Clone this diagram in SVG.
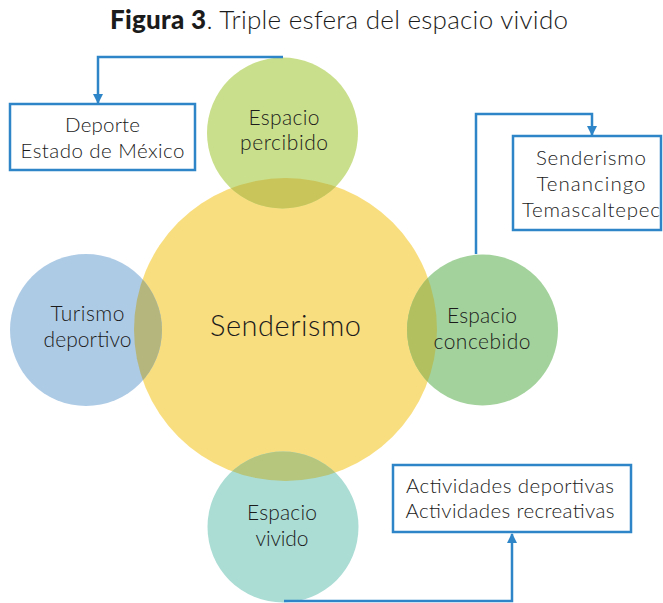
<svg xmlns="http://www.w3.org/2000/svg" width="663" height="603" viewBox="0 0 663 603">
<style>
text{font-family:Lato,"Open Sans","Liberation Sans",sans-serif;font-weight:300;fill:#1b1b1b;text-anchor:middle}
.c{font-size:21px}
.b{font-size:20.5px}
.box{fill:#fff;stroke:#2E86C8;stroke-width:2.5}
.con{fill:none;stroke:#2E86C8;stroke-width:2.5}
</style>
<defs>
<clipPath id="cy"><circle cx="285.5" cy="329.5" r="151.5"/></clipPath>
<marker id="ar" viewBox="0 0 10 10" refX="9" refY="5" markerWidth="4" markerHeight="4" orient="auto-start-reverse" markerUnits="strokeWidth">
<path d="M0,0 L10,5 L0,10 z" fill="#2E86C8"/>
</marker>
</defs>
<text x="339" y="29" style="font-size:26px" textLength="458" lengthAdjust="spacing"><tspan font-weight="900">Figura 3</tspan>. Triple esfera del espacio vivido</text>
<g id="senderismo"><circle cx="285.5" cy="329.5" r="151.5" fill="#F9DE80"/><text x="285.5" y="336" style="font-size:29px" textLength="151" lengthAdjust="spacing">Senderismo</text></g>
<g id="percibido"><circle cx="282.5" cy="133" r="75.5" fill="#CADF8B"/><circle cx="282.5" cy="133" r="75.5" fill="#C9C55A" clip-path="url(#cy)"/><text class="c" x="284" y="124.5" textLength="71" lengthAdjust="spacing">Espacio</text><text class="c" x="284" y="150" textLength="88" lengthAdjust="spacing">percibido</text></g>
<g id="concebido"><circle cx="482.5" cy="330" r="75.5" fill="#A3D29C"/><circle cx="482.5" cy="330" r="75.5" fill="#B2C060" clip-path="url(#cy)"/><text class="c" x="482" y="323" textLength="70" lengthAdjust="spacing">Espacio</text><text class="c" x="482" y="348.5" textLength="97" lengthAdjust="spacing">concebido</text></g>
<g id="vivido"><circle cx="283" cy="527" r="75.5" fill="#ABDDD5"/><circle cx="283" cy="527" r="75.5" fill="#B6C67C" clip-path="url(#cy)"/><text class="c" x="282" y="520" textLength="70" lengthAdjust="spacing">Espacio</text><text class="c" x="282" y="546" textLength="53" lengthAdjust="spacing">vivido</text></g>
<g id="turismo"><circle cx="86" cy="330" r="76" fill="#AECBE6"/><circle cx="86" cy="330" r="76" fill="#B5B67E" clip-path="url(#cy)"/><text class="c" x="87.5" y="321" textLength="74" lengthAdjust="spacing">Turismo</text><text class="c" x="87.5" y="346.5" textLength="88" lengthAdjust="spacing">deportivo</text></g>
<g id="box-deporte"><rect class="box" x="10" y="104" width="185" height="66"/><text class="b" x="102.5" y="132" textLength="75" lengthAdjust="spacing">Deporte</text><text class="b" x="102.5" y="157.5" textLength="164" lengthAdjust="spacing">Estado de México</text></g>
<g id="box-lugares"><rect class="box" x="513" y="136" width="148" height="94"/><text class="b" x="591" y="165" textLength="110" lengthAdjust="spacing">Senderismo</text><text class="b" x="591" y="191" textLength="109" lengthAdjust="spacing">Tenancingo</text><text class="b" x="591" y="216.5" textLength="138" lengthAdjust="spacing">Temascaltepec</text></g>
<g id="box-actividades"><rect class="box" x="393" y="465" width="238" height="67"/><text class="b" x="510" y="492.5" textLength="208" lengthAdjust="spacing">Actividades deportivas</text><text class="b" x="510" y="517.5" textLength="209" lengthAdjust="spacing">Actividades recreativas</text></g>
<g id="connectors">
<polyline class="con" points="283,57 98,57 98,103" marker-end="url(#ar)"/>
<polyline class="con" points="476,254 476,114 592,114 592,135" marker-end="url(#ar)"/>
<polyline class="con" points="284,601 512,601 512,534" marker-end="url(#ar)"/>
</g>
</svg>
